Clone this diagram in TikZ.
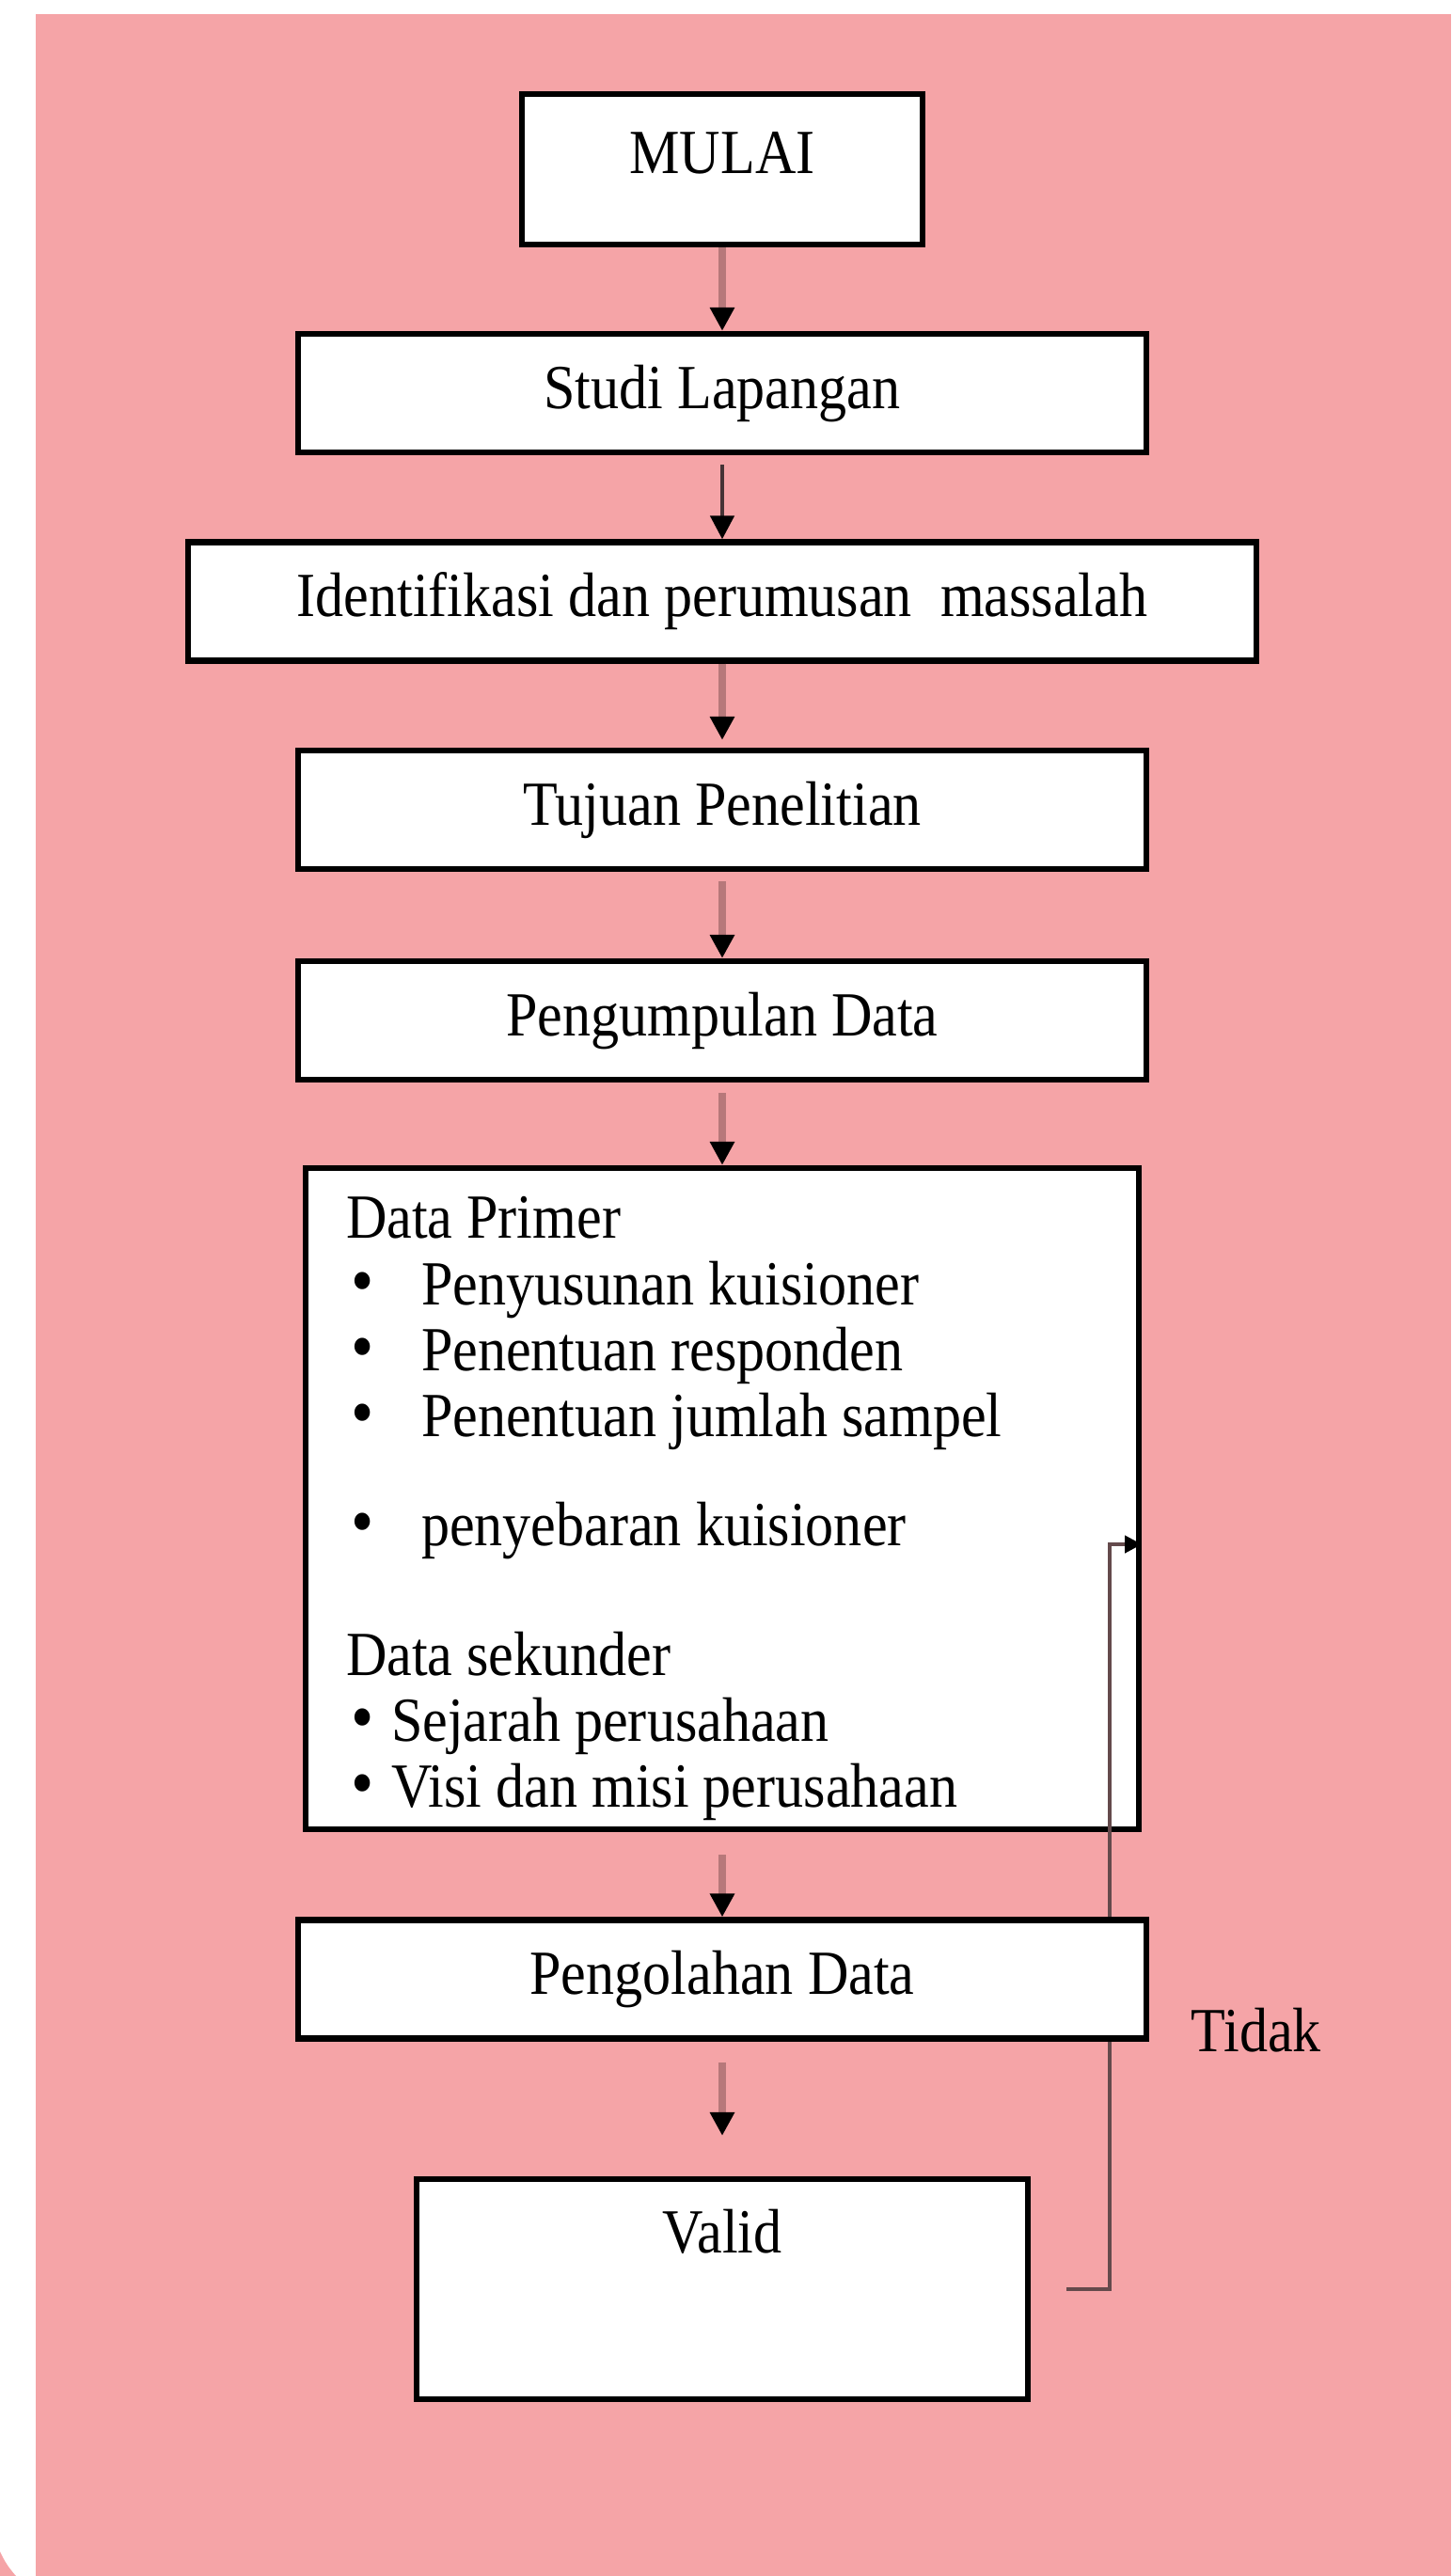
\documentclass[tikz,border=0pt]{standalone}
\usepackage{fontspec}
\setmainfont[FakeStretch=0.9]{Liberation Serif}
\usepackage{tikz}
\usetikzlibrary{arrows.meta,calc}
\definecolor{bgpink}{RGB}{245,164,167}
\definecolor{shaft}{RGB}{183,120,122}
\definecolor{shaftdark}{RGB}{70,52,54}
\definecolor{loopline}{RGB}{100,74,76}
\newcommand{\listdot}[1]{\makebox[#1][l]{\hspace{0.05cm}\scalebox{1.15}{\textbullet}}}

\begin{document}
\begin{tikzpicture}[
  every node/.style={font=\fontsize{19}{20}\selectfont, inner sep=0pt},
  stepbox/.style={draw, fill=white, line width=1.8pt, minimum width=9.02cm, minimum height=1.26cm, text height=0.46cm, text depth=0.14cm},
  databox/.style={draw, fill=white, line width=1.8pt, minimum width=8.86cm, minimum height=7.03cm, inner xsep=0.43cm, inner ysep=0.05cm, text width=8.0cm, align=flush left},
  flow/.style={draw=shaft, line width=2pt, -{Triangle[length=0.25cm,width=0.25cm,color=black]}},
  backflow/.style={draw=loopline, line width=1.1pt, -{Triangle[length=0.18cm,width=0.18cm,color=black]}}
]
\useasboundingbox (0,0) rectangle (15.43,-27.39);
\fill[white] (0,0) rectangle (15.43,-27.39);
\fill[bgpink] (0.38,-0.15) rectangle (15.43,-27.39);
\fill[bgpink] (0,-27.13) to[bend right=8] (0.17,-27.39) -- (0,-27.39) -- cycle;

\node[stepbox, minimum width=4.26cm, minimum height=1.6cm, text height=0.84cm, text depth=0.76cm] (mulai) at (7.68,-1.80) {MULAI};
\node[stepbox] (studi)  at (7.68,-4.18)  {Studi Lapangan};
\node[stepbox, minimum width=11.36cm] (ident) at (7.68,-6.395) {Identifikasi dan perumusan~ massalah};
\node[stepbox] (tujuan) at (7.68,-8.61)  {Tujuan Penelitian};
\node[stepbox] (kumpul) at (7.68,-10.85) {Pengumpulan Data};

\node[databox] (data) at (7.68,-15.935) {\rule{0pt}{0.66cm}Data Primer\\
\listdot{0.8cm}Penyusunan kuisioner\\
\listdot{0.8cm}Penentuan responden\\
\listdot{0.8cm}Penentuan jumlah sampel\\[0.45cm]
\listdot{0.8cm}penyebaran kuisioner\\[0.68cm]
Data sekunder\\
\listdot{0.48cm}Sejarah perusahaan\\
\listdot{0.48cm}Visi dan misi perusahaan};

\node[stepbox, minimum width=6.5cm, minimum height=2.34cm, text height=0.78cm, text depth=1.56cm] (valid) at (7.68,-24.34) {Valid};

% jalur kembali jika tidak valid
\coordinate (backout) at ($(valid.east)+(0.38,0)$);
\coordinate (backin)  at ($(data.east)+(0,-0.485)$);
\draw[backflow] (backout) -- ++(0.46,0) |- (backin);

\node[stepbox] (olah) at (7.68,-21.045) {Pengolahan Data};
\node[anchor=base west] (tidak) at (12.66,-21.81) {Tidak};

\draw[flow] (mulai.south) -- (studi.north);
\draw[flow, draw=shaftdark, line width=1.3pt, shorten <=0.1cm] (studi.south) -- (ident.north);
\draw[flow, shorten >=0.08cm] (ident.south) -- (tujuan.north);
\draw[flow, shorten <=0.1cm] (tujuan.south) -- (kumpul.north);
\draw[flow, shorten <=0.11cm] (kumpul.south) -- (data.north);
\draw[flow, shorten <=0.24cm] (data.south) -- (olah.north);
\draw[flow, shorten <=0.22cm, shorten >=0.43cm] (olah.south) -- (valid.north);
\end{tikzpicture}
\end{document}
